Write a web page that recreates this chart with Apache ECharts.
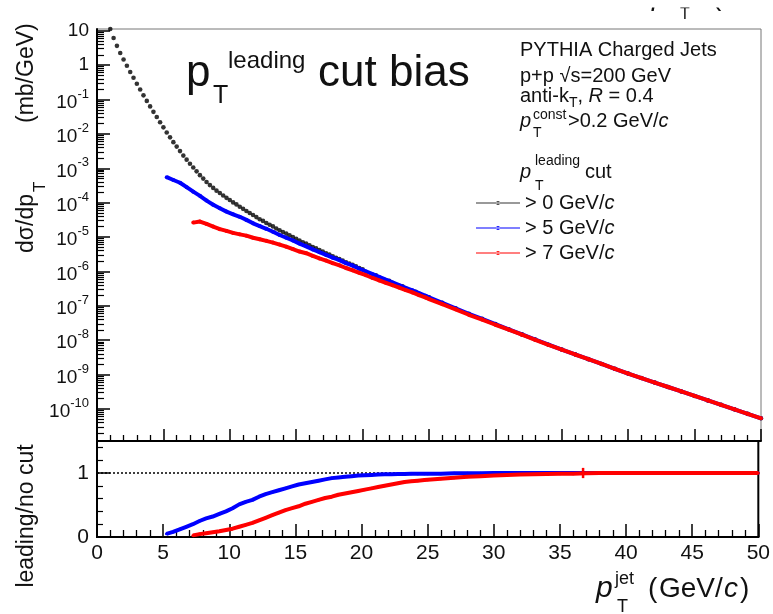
<!DOCTYPE html>
<html><head><meta charset="utf-8">
<script src="https://cdn.jsdelivr.net/npm/echarts@6/dist/echarts.min.js"></script>
<style>html,body{margin:0;padding:0;background:#fff}#c{width:773px;height:614px}</style>
</head><body><div id="c"></div>
<script>
// ---------------- data ----------------
// jet pT (GeV/c) and dsigma/dpT (mb/GeV), no leading cut
const blackX = [1,1.25,1.5,1.75,2,2.25,2.5,2.75,3,3.25,3.5,3.75,4,4.25,4.5,4.75,5,5.25,5.5,5.75,6,6.25,6.5,6.75,7,7.25,7.5,7.75,8,8.25,8.5,8.75,9,9.25,9.5,9.75,10,10.25,10.5,10.75,11,11.25,11.5,11.75,12,12.25,12.5,12.75,13,13.25,13.5,13.75,14,14.25,14.5,14.75,15,15.25,15.5,15.75,16,16.25,16.5,16.75,17,17.25,17.5,17.75,18,18.25,18.5,18.75,19,19.25,19.5,19.75,20,21,22,23,24,25,26,27,28,29,30,31,32,33,34,35,36,37,38,39,40,41,42,43,44,45,46,47,48,49,50];
const blackY = [1.12e1,6.17,3.63,2.24,1.45,9.55e-1,6.31e-1,4.27e-1,2.88e-1,1.95e-1,1.32e-1,9.12e-2,6.31e-2,4.37e-2,3.09e-2,2.19e-2,1.55e-2,1.10e-2,7.94e-3,5.75e-3,4.27e-3,3.16e-3,2.34e-3,1.78e-3,1.35e-3,1.05e-3,8.13e-4,6.31e-4,5.01e-4,3.98e-4,3.24e-4,2.69e-4,2.24e-4,1.91e-4,1.62e-4,1.38e-4,1.20e-4,1.02e-4,8.91e-5,7.59e-5,6.61e-5,5.75e-5,5.01e-5,4.37e-5,3.80e-5,3.31e-5,2.95e-5,2.57e-5,2.29e-5,2.04e-5,1.78e-5,1.58e-5,1.41e-5,1.26e-5,1.12e-5,1.00e-5,8.91e-6,7.94e-6,7.08e-6,6.46e-6,5.75e-6,5.13e-6,4.68e-6,4.17e-6,3.80e-6,3.39e-6,3.09e-6,2.75e-6,2.51e-6,2.29e-6,2.09e-6,1.86e-6,1.70e-6,1.55e-6,1.41e-6,1.26e-6,1.15e-6,7.76e-7,5.37e-7,3.72e-7,2.57e-7,1.78e-7,1.23e-7,8.51e-8,5.89e-8,4.17e-8,2.95e-8,2.09e-8,1.48e-8,1.05e-8,7.41e-9,5.37e-9,3.89e-9,2.82e-9,2.04e-9,1.48e-9,1.07e-9,7.94e-10,5.89e-10,4.37e-10,3.24e-10,2.40e-10,1.78e-10,1.32e-10,9.77e-11,7.24e-11,5.37e-11];

// leading pT > 5 GeV/c
const blueX = [5.25,5.75,6.25,6.75,7.25,7.75,8.25,8.75,9.25,9.75,10.25,10.75,11.25,11.75,12.25,12.75,13.25,13.75,14.25,14.75,15.25,15.75,16.25,16.75,17.25,17.75,18.25,18.75,19.25,19.75,20.25,20.75,21.25,21.75,22.25,22.75,23.25,23.75,24.25,24.75,25,26,27,28,29,30,31,32,33,34,35,36,37,38,39,40,41,42,43,44,45,46,47,48,49,50];
const blueY = [5.50e-4,4.57e-4,3.80e-4,2.82e-4,2.09e-4,1.58e-4,1.15e-4,8.71e-5,6.92e-5,5.50e-5,4.57e-5,3.89e-5,3.16e-5,2.51e-5,2.09e-5,1.74e-5,1.43e-5,1.15e-5,9.55e-6,7.94e-6,6.46e-6,5.37e-6,4.37e-6,3.63e-6,3.02e-6,2.51e-6,2.14e-6,1.74e-6,1.48e-6,1.20e-6,1.00e-6,8.32e-7,6.92e-7,5.75e-7,4.79e-7,3.98e-7,3.31e-7,2.82e-7,2.34e-7,1.95e-7,1.76e-7,1.22e-7,8.43e-8,5.83e-8,4.15e-8,2.94e-8,2.08e-8,1.48e-8,1.05e-8,7.40e-9,5.36e-9,3.89e-9,2.82e-9,2.04e-9,1.48e-9,1.07e-9,7.94e-10,5.89e-10,4.37e-10,3.24e-10,2.40e-10,1.78e-10,1.32e-10,9.77e-11,7.24e-11,5.37e-11];
const blueRatio = [0.05,0.08,0.12,0.16,0.20,0.25,0.29,0.32,0.36,0.40,0.45,0.51,0.55,0.58,0.63,0.67,0.70,0.73,0.76,0.79,0.82,0.84,0.86,0.88,0.90,0.92,0.93,0.94,0.95,0.96,0.965,0.97,0.975,0.98,0.98,0.985,0.985,0.99,0.99,0.99,0.99,0.99,0.995,0.995,0.995,1,1,1,1,1,1,1,1,1,1,1,1,1,1,1,1,1,1,1,1,1];

// leading pT > 7 GeV/c
const redX = [7.25,7.75,8.25,8.75,9.25,9.75,10.25,10.75,11.25,11.75,12.25,12.75,13.25,13.75,14.25,14.75,15.25,15.75,16.25,16.75,17.25,17.75,18.25,18.75,19.25,19.75,20.25,20.75,21.25,21.75,22.25,22.75,23.25,23.75,24.25,24.75,25,26,27,28,29,30,31,32,33,34,35,36,37,38,39,40,41,42,43,44,45,46,47,48,49,50];
const redY = [2.63e-5,2.82e-5,2.40e-5,2.02e-5,1.70e-5,1.51e-5,1.32e-5,1.20e-5,1.10e-5,9.55e-6,8.61e-6,7.76e-6,6.92e-6,6.03e-6,5.25e-6,4.47e-6,3.80e-6,3.39e-6,2.82e-6,2.40e-6,2.07e-6,1.74e-6,1.51e-6,1.26e-6,1.08e-6,9.12e-7,7.76e-7,6.46e-7,5.50e-7,4.68e-7,3.98e-7,3.39e-7,2.88e-7,2.45e-7,2.04e-7,1.74e-7,1.58e-7,1.12e-7,7.94e-8,5.50e-8,3.98e-8,2.82e-8,2.04e-8,1.45e-8,1.03e-8,7.30e-9,5.32e-9,3.85e-9,2.81e-9,2.04e-9,1.48e-9,1.07e-9,7.94e-10,5.89e-10,4.37e-10,3.24e-10,2.40e-10,1.78e-10,1.32e-10,9.77e-11,7.24e-11,5.37e-11];
const redRatio = [0.025,0.045,0.06,0.075,0.09,0.11,0.13,0.16,0.19,0.22,0.26,0.30,0.34,0.38,0.42,0.45,0.48,0.52,0.55,0.58,0.61,0.63,0.66,0.68,0.70,0.72,0.74,0.76,0.78,0.80,0.82,0.84,0.86,0.87,0.88,0.89,0.895,0.91,0.925,0.94,0.95,0.96,0.97,0.975,0.98,0.985,0.99,0.99,0.995,1,1,1,1,1,1,1,1,1,1,1,1,1];
// one visibly large error bar in the ratio panel
const redErrX = [36.75], redErrLo = [0.92], redErrHi = [1.08];

// tick values / labels
const yTickExp = [-10,-9,-8,-7,-6,-5,-4,-3,-2,-1,0,1];
const ratioTicks = [0,1];
const ratioMinor = [0.2,0.4,0.6,0.8,1.2,1.4];
const legendNames = ['> 0 GeV/c','> 5 GeV/c','> 7 GeV/c'];

// ---------------- chart ----------------
const FF = "'Liberation Sans', Arial, Helvetica, sans-serif";
const YMIN = -10.93, YMAX = 1.05;
const minorLog = [];
for (let n = -11; n <= 0; n++) for (let k = 2; k <= 9; k++) {
  const v = n + Math.log10(k); if (v > YMIN && v < YMAX) minorLog.push(v);
}
const lg = v => Math.log10(v);
const pts = (xs, ys, f) => xs.map((x, i) => [x, f ? f(ys[i]) : ys[i]]);

const chart = echarts.init(document.getElementById('c'), null, {renderer: 'canvas'});

function T(x, y, text, size, o) {
  o = o || {};
  return {
    type: 'text', x: x, y: y, rotation: o.rot || 0, z: 50,
    style: {
      text: text, fontSize: size, fontFamily: FF, fill: o.color || '#111',
      fontStyle: o.italic ? 'italic' : 'normal',
      textAlign: o.align || 'left', textVerticalAlign: 'middle',
      rich: o.rich
    }
  };
}

const xCommon = {
  type: 'value', min: 0, max: 50, interval: 5,
  axisLine: {show: true, onZero: false, lineStyle: {color: '#000', width: 2}},
  splitLine: {show: false}
};

const option = {
  backgroundColor: '#fff',
  animation: false,
  grid: [
    {left: 97, top: 29, width: 664, height: 412, show: true, borderColor: '#777', borderWidth: 1},
    {left: 97, top: 441, width: 664, height: 96, show: true, borderColor: '#000', borderWidth: 2}
  ],
  xAxis: [
    Object.assign({}, xCommon, {
      gridIndex: 0,
      axisTick: {show: true, inside: true, length: 12, lineStyle: {color: '#000', width: 1.5}},
      minorTick: {show: true, splitNumber: 5, length: 6, lineStyle: {color: '#000', width: 1.3}},
      axisLabel: {show: false}
    }),
    Object.assign({}, xCommon, {
      gridIndex: 1,
      axisTick: {show: true, inside: true, length: 13, lineStyle: {color: '#000', width: 1.5}},
      minorTick: {show: true, splitNumber: 5, length: 7, lineStyle: {color: '#000', width: 1.3}},
      axisLabel: {show: true, margin: 6, fontSize: 21, fontFamily: FF, color: '#111', showMinLabel: true, showMaxLabel: true}
    })
  ],
  yAxis: [
    {
      gridIndex: 0, type: 'value', min: YMIN, max: YMAX, position: 'left',
      axisLine: {show: true, onZero: false, lineStyle: {color: '#000', width: 2}},
      axisTick: {show: true, inside: true, length: 13, customValues: yTickExp, lineStyle: {color: '#000', width: 1.5}},
      splitLine: {show: false},
      axisLabel: {
        show: true, margin: 8, customValues: yTickExp, color: '#111', fontFamily: FF,
        formatter: v => {
          const e = Math.round(v);
          if (e === 1) return '{c|10}';
          if (e === 0) return '{c|1}';
          return '{b|10}{s|' + e + '}';
        },
        rich: {
          c: {fontSize: 19, fontFamily: FF, color: '#111', lineHeight: 20},
          b: {fontSize: 19, fontFamily: FF, color: '#111', lineHeight: 20, padding: [6, 0, 0, 0]},
          s: {fontSize: 13, fontFamily: FF, color: '#111', lineHeight: 13, padding: [0, 0, 11, 0]}
        }
      }
    },
    {
      gridIndex: 0, type: 'value', min: YMIN, max: YMAX, position: 'left',
      axisLine: {show: false},
      axisTick: {show: true, inside: true, length: 7, customValues: minorLog, lineStyle: {color: '#000', width: 1.2}},
      axisLabel: {show: false}, splitLine: {show: false}
    },
    {
      gridIndex: 1, type: 'value', min: 0, max: 1.5, position: 'left',
      axisLine: {show: true, onZero: false, lineStyle: {color: '#000', width: 2}},
      axisTick: {show: true, inside: true, length: 13, customValues: ratioTicks, lineStyle: {color: '#000', width: 1.5}},
      axisLabel: {show: true, margin: 8, customValues: ratioTicks, fontSize: 21, fontFamily: FF, color: '#111'},
      splitLine: {show: false}
    },
    {
      gridIndex: 1, type: 'value', min: 0, max: 1.5, position: 'left',
      axisLine: {show: false},
      axisTick: {show: true, inside: true, length: 6, customValues: ratioMinor, lineStyle: {color: '#000', width: 1.2}},
      axisLabel: {show: false}, splitLine: {show: false}
    }
  ],
  legend: {
    show: true, orient: 'vertical', left: 471, top: 188,
    itemWidth: 44, itemHeight: 10, itemGap: 5, selectedMode: false,
    icon: 'path://M0,0h0.01v0.01h-0.01z M0,19.99h0.01v0.01h-0.01z M0,9.2H88V10.8H0Z M40,10a4,4 0 1,0 8,0a4,4 0 1,0 -8,0z',
    itemStyle: {borderWidth: 0},
    data: legendNames,
    formatter: n => '{a|' + n.slice(0, -1) + '}{i|c}',
    textStyle: {
      fontSize: 20, fontFamily: FF, color: '#111', lineHeight: 20,
      rich: {
        a: {fontSize: 20, fontFamily: FF, color: '#111', lineHeight: 20},
        i: {fontSize: 20, fontFamily: FF, color: '#111', lineHeight: 20, fontStyle: 'italic'}
      }
    }
  },
  series: [
    {
      name: legendNames[0], type: 'scatter', xAxisIndex: 0, yAxisIndex: 0,
      data: pts(blackX, blackY, lg), symbol: 'circle', symbolSize: 4.6,
      itemStyle: {color: '#000'}, z: 2, silent: true
    },
    {
      name: legendNames[1], type: 'line', xAxisIndex: 0, yAxisIndex: 0,
      data: pts(blueX, blueY, lg), symbol: 'circle', symbolSize: 4, showSymbol: true,
      lineStyle: {color: '#0000ff', width: 4}, itemStyle: {color: '#0000ff'}, z: 3, silent: true
    },
    {
      name: legendNames[2], type: 'line', xAxisIndex: 0, yAxisIndex: 0,
      data: pts(redX, redY, lg), symbol: 'circle', symbolSize: 4, showSymbol: true,
      lineStyle: {color: '#ff0000', width: 4}, itemStyle: {color: '#ff0000'}, z: 4, silent: true
    },
    {
      name: 'ratio5', type: 'line', xAxisIndex: 1, yAxisIndex: 2,
      data: pts(blueX, blueRatio), symbol: 'circle', symbolSize: 3, showSymbol: true,
      lineStyle: {color: '#0000ff', width: 4}, itemStyle: {color: '#0000ff'}, z: 3, silent: true,
      markLine: {
        silent: true, symbol: 'none', label: {show: false}, z: 2,
        lineStyle: {color: '#000', width: 1.5, type: [2, 2]},
        data: [{yAxis: 1}]
      }
    },
    {
      name: 'ratio7', type: 'line', xAxisIndex: 1, yAxisIndex: 2,
      data: pts(redX, redRatio), symbol: 'circle', symbolSize: 3, showSymbol: true,
      lineStyle: {color: '#ff0000', width: 4}, itemStyle: {color: '#ff0000'}, z: 4, silent: true
    },
    {
      name: 'err7', type: 'custom', xAxisIndex: 1, yAxisIndex: 2, z: 5, silent: true,
      data: redErrX.map((x, i) => [x, redErrLo[i], redErrHi[i]]),
      renderItem: (params, api) => {
        const a = api.coord([api.value(0), api.value(1)]);
        const b = api.coord([api.value(0), api.value(2)]);
        return {type: 'line', shape: {x1: a[0], y1: a[1], x2: b[0], y2: b[1]}, style: {stroke: '#ff0000', lineWidth: 2.5}};
      }
    }
  ],
  graphic: [
    // title
    T(186, 74, 'p', 44),
    T(213, 96, 'T', 25),
    T(228, 61, 'leading', 24),
    T(318, 74, 'cut bias', 44),
    // info block
    T(520, 50, 'PYTHIA Charged Jets', 20),
    T(520, 76, 'p+p √s=200 GeV', 20),
    T(520, 96, '{a|anti-k}{s|T}{a|, }{i|R}{a| = 0.4}', 20, {rich: {
      a: {fontSize: 20, fontFamily: FF, fill: '#111', lineHeight: 28},
      i: {fontSize: 20, fontFamily: FF, fill: '#111', lineHeight: 28, fontStyle: 'italic'},
      s: {fontSize: 14, fontFamily: FF, fill: '#111', lineHeight: 14, verticalAlign: 'bottom'}
    }}),
    T(520, 121, 'p', 20, {italic: true}),
    T(533, 133, 'T', 14),
    T(533, 115, 'const', 14),
    T(568, 121, '{a|>0.2 GeV/}{i|c}', 20, {rich: {
      a: {fontSize: 20, fontFamily: FF, fill: '#111'},
      i: {fontSize: 20, fontFamily: FF, fill: '#111', fontStyle: 'italic'}
    }}),
    // legend header
    T(520, 172, 'p', 20, {italic: true}),
    T(535, 161, 'leading', 14),
    T(535, 186, 'T', 14),
    T(585, 172, 'cut', 20),
    // y titles
    T(27, 253, 'dσ/dp', 23, {rot: Math.PI / 2}),
    T(40, 192, 'T', 17, {rot: Math.PI / 2}),
    T(27, 123, '(mb/GeV)', 23, {rot: Math.PI / 2}),
    T(27, 516, 'leading/no cut', 23, {rot: Math.PI / 2, align: 'center'}),
    // x title
    T(596, 589, 'p', 30, {italic: true}),
    T(617, 607, 'T', 18),
    T(615, 579, 'jet', 18),
    T(648, 589, '(', 28),
    T(659, 589, 'GeV', 28),
    T(715, 589, '/', 28),
    T(724, 589, 'c', 28, {italic: true}),
    T(740, 589, ')', 28),
    // clipped text at the very top
    T(652, -3, 'p', 28, {italic: true}),
    T(680, 15, 'T', 16),
    T(712, -3, '(', 28),
    {type: 'rect', z: 60, shape: {x: 630, y: 0, width: 130, height: 7.5}, style: {fill: '#fff'}}
  ]
};
chart.setOption(option);
</script></body></html>
